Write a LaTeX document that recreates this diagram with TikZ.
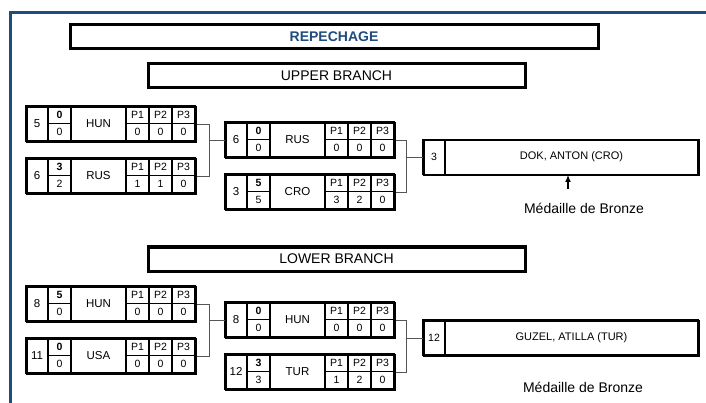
\documentclass[tikz,border=0pt]{standalone}
\usepackage{fontspec}
\setmainfont{Liberation Sans}
\usetikzlibrary{arrows.meta}
\definecolor{frameblue}{RGB}{31,75,125}
\definecolor{linkgray}{RGB}{85,85,85}

\tikzset{
  cell/.style={draw,line width=1.5pt,inner sep=0pt,font=\fontsize{10.5}{12}\selectfont},
  banner/.style={draw,line width=3pt,inner sep=0pt,minimum height=24pt,font=\fontsize{14}{16}\selectfont},
  link/.style={draw=linkgray,line width=1pt},
}

% a bout: name, top left corner, seed, scores, nation, P1 P2 P3
\newcommand{\bout}[9]{%
\draw
    (#2) node [cell,below right,minimum width=169pt,minimum height=35pt,line width=2pt] (#1) {}
    +(11,17.5) node [cell,minimum width=22pt,minimum height=35pt,font=\fontsize{11.5}{13}\selectfont] {#3}
    +(33.5,8.75) node [cell,minimum width=23pt,minimum height=17.5pt,font=\fontsize{10.5}{12}\selectfont\bfseries] {#4}
    +(33.5,26.25) node [cell,minimum width=23pt,minimum height=17.5pt] {#5}
    +(72.5,17.5) node [cell,minimum width=55pt,minimum height=35pt,font=\fontsize{11.5}{13}\selectfont] {#6}
    +(111.5,8.75) node [cell,minimum width=23pt,minimum height=17.5pt] {P1}
    +(134.5,8.75) node [cell,minimum width=23pt,minimum height=17.5pt] {P2}
    +(157.5,8.75) node [cell,minimum width=23pt,minimum height=17.5pt] {P3}
    +(111.5,26.25) node [cell,minimum width=23pt,minimum height=17.5pt] {#7}
    +(134.5,26.25) node [cell,minimum width=23pt,minimum height=17.5pt] {#8}
    +(157.5,26.25) node [cell,minimum width=23pt,minimum height=17.5pt] {#9};
}

\begin{document}
\begin{tikzpicture}[x=1pt,y=-1pt]
\useasboundingbox (0,0) rectangle (706,403);
\draw [frameblue,line width=3pt] (10.5,403) -- (10.5,12.5) -- (706,12.5);

\node [banner,minimum width=528pt,text=frameblue,font=\fontsize{14}{16}\selectfont\bfseries] (title) at (334,36.5) {REPECHAGE};
\node [banner,minimum width=377pt] (upper) at (336.5,76) {UPPER BRANCH};
\node [banner,minimum width=377pt] (lower) at (336.5,259) {LOWER BRANCH};

% upper branch
\bout{u1}{26,106}{5}{0}{0}{HUN}{0}{0}{0}
\bout{u2}{26,158}{6}{3}{2}{RUS}{1}{1}{0}
\bout{u3}{225,122}{6}{0}{0}{RUS}{0}{0}{0}
\bout{u4}{225,174}{3}{5}{5}{CRO}{3}{2}{0}
\draw
    (423,139.5) node [cell,below right,minimum width=275pt,minimum height=35pt,line width=2pt] (uf) {}
    +(11,17.5) node [cell,minimum width=22pt,minimum height=35pt] {3}
    +(148.5,17.5) node [cell,minimum width=253pt,minimum height=35pt,font=\fontsize{11}{13}\selectfont] (ufname) {DOK, ANTON (CRO)};
\node [font=\fontsize{14}{16}\selectfont] (umedal) at (584,208) {Médaille de Bronze};
\coordinate (utail) at (568,189);
\draw [-{Latex[length=7pt,width=6pt]},line width=1.2pt] (utail) -- ([yshift=1.5pt]utail |- uf.south);

\draw [link] (u1.east) -- ++(12,0) coordinate (uj1) |- (u2.east);
\draw [link] (uj1 |- u3.west) -- (u3.west);
\draw [link] (u3.east) -- ++(10,0) coordinate (uj2) |- (u4.east);
\draw [link] (uj2 |- uf.west) -- (uf.west);

% lower branch
\bout{l1}{26,286}{8}{5}{0}{HUN}{0}{0}{0}
\bout{l2}{26,338}{11}{0}{0}{USA}{0}{0}{0}
\bout{l3}{225,302}{8}{0}{0}{HUN}{0}{0}{0}
\bout{l4}{225,354}{12}{3}{3}{TUR}{1}{2}{0}
\draw
    (423,320) node [cell,below right,minimum width=275pt,minimum height=35pt,line width=2pt] (lf) {}
    +(11,17.5) node [cell,minimum width=22pt,minimum height=35pt] {12}
    +(148.5,17.5) node [cell,minimum width=253pt,minimum height=35pt,font=\fontsize{11}{13}\selectfont] (lfname) {GUZEL, ATILLA (TUR)};
\node [font=\fontsize{14}{16}\selectfont] (lmedal) at (583,387) {Médaille de Bronze};

\draw [link] (l1.east) -- ++(12,0) coordinate (lj1) |- (l2.east);
\draw [link] (lj1 |- l3.west) -- (l3.west);
\draw [link] (l3.east) -- ++(10,0) coordinate (lj2) |- (l4.east);
\draw [link] (lj2 |- lf.west) -- (lf.west);
\end{tikzpicture}
\end{document}
